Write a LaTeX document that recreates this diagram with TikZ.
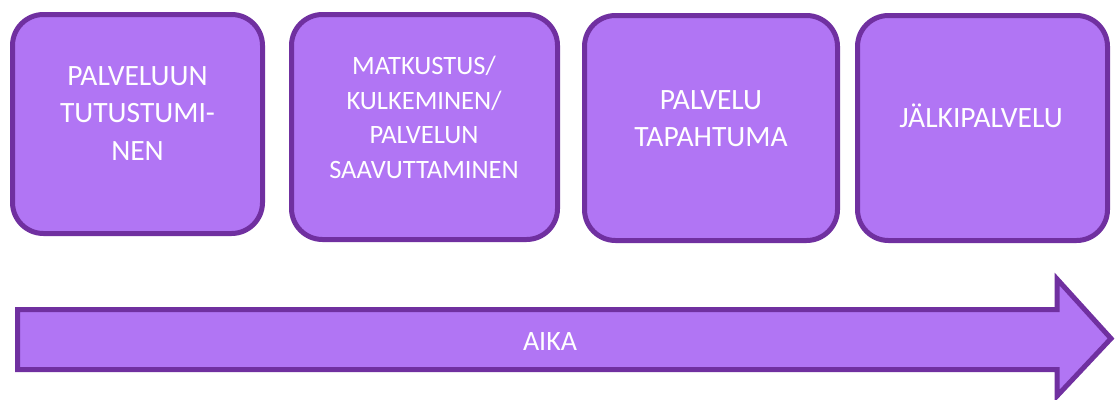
\documentclass[tikz,border=0pt]{standalone}
\usepackage{fontspec}
\setmainfont{Carlito}
\definecolor{phasefill}{HTML}{B175F4}
\definecolor{phaseline}{HTML}{7030A0}
\tikzset{
  phase/.style={draw=phaseline, fill=phasefill, line width=5pt,
    rounded corners=31pt, inner sep=0pt},
  phasetext/.style={text=white, align=center, inner sep=0pt,
    font=\fontsize{29.5}{37.5}\selectfont},
  smalltext/.style={phasetext, font=\fontsize{26.5}{34.5}\selectfont},
  timearrow/.style={draw=phaseline, fill=phasefill, line width=5pt, miter limit=10}
}
\begin{document}
\begin{tikzpicture}[x=1pt, y=-1pt]
\useasboundingbox (0,0) rectangle (1115,399);

% phase boxes
\draw[phase] (12.5,14.5) rectangle (262.5,233.5);
\draw[phase] (291.5,14.5) rectangle (557.5,239.5);
\draw[phase] (584.5,15.5) rectangle (837.5,240.5);
\draw[phase] (857.5,15.5) rectangle (1107.5,240.5);

% phase labels
\node[phasetext] (t1) at (137.5,113.5) {PALVELUUN\\TUTUSTUMI-\\NEN};
\node[smalltext] (t2) at (424,117.5) {MATKUSTUS/\\KULKEMINEN/\\PALVELUN\\SAAVUTTAMINEN};
\node[phasetext] (t3) at (711,118.5) {PALVELU\\TAPAHTUMA};
\node[phasetext, anchor=base] (t4) at (981,127) {JÄLKIPALVELU};

% time arrow
\draw[timearrow] (17.5,309.5) -- (1057,309.5) -- (1057,279) -- (1111,338.5)
  -- (1057,396) -- (1057,369.5) -- (17.5,369.5) -- cycle;
\node[phasetext, font=\fontsize{28}{32}\selectfont] (aika) at (550,341.5) {AIKA};
\end{tikzpicture}
\end{document}
